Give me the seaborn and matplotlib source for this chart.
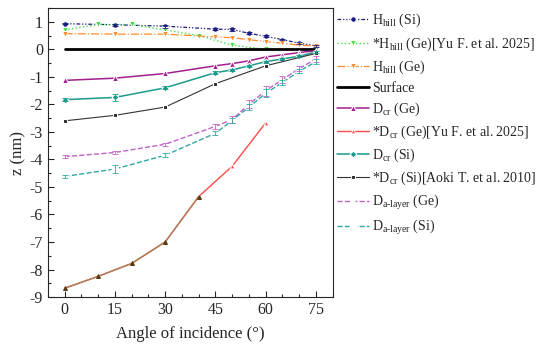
import numpy as np
import matplotlib
matplotlib.use('Agg')
import matplotlib.pyplot as plt
import seaborn as sns
from matplotlib.ticker import MultipleLocator

# angles (deg)
ang = [0, 15, 30, 45, 50, 55, 60, 65, 70, 75]
ang_yu = [0, 10, 20, 30, 40, 50, 60]
ang_aoki = [0, 15, 30, 45, 60, 75]
ang_surf = [0, 75]

# depths / heights (nm)
hhill_si = [0.93, 0.89, 0.84, 0.73, 0.72, 0.58, 0.47, 0.35, 0.22, 0.13]
hhill_ge_yu = [0.70, 0.90, 0.90, 0.70, 0.50, 0.15, 0.00]
hhill_ge = [0.57, 0.55, 0.55, 0.45, 0.42, 0.35, 0.28, 0.22, 0.15, 0.12]
surface = [0.0, 0.0]
dcr_ge = [-1.13, -1.05, -0.88, -0.60, -0.52, -0.42, -0.28, -0.20, -0.12, -0.05]
dcr_ge_yu = [-8.68, -8.25, -7.78, -7.00, -5.35, -4.25, -2.67]
dcr_si = [-1.83, -1.75, -1.40, -0.85, -0.75, -0.60, -0.45, -0.35, -0.25, -0.10]
dcr_si_aoki = [-2.60, -2.40, -2.10, -1.25, -0.60, -0.15]
dal_ge = [-3.90, -3.75, -3.45, -2.80, -2.55, -2.00, -1.50, -1.10, -0.70, -0.35]
dal_si = [-4.62, -4.35, -3.85, -3.05, -2.58, -2.10, -1.60, -1.20, -0.80, -0.45]

# small error bars
err_hhill_si = [0.03, 0.04, 0.05, 0.04, 0.06, 0.03, 0.04, 0.03, 0.03, 0.03]
err_dcr_si = [0.06, 0.12, 0.05, 0.06, 0.05, 0.04, 0.04, 0.03, 0.03, 0.03]
err_dal_ge = [0.05, 0.05, 0.06, 0.08, 0.12, 0.15, 0.18, 0.12, 0.10, 0.10]
err_dal_si = [0.05, 0.15, 0.08, 0.08, 0.10, 0.10, 0.15, 0.10, 0.08, 0.10]

sns.set_style('ticks')
plt.rcParams['font.family'] = ['Liberation Serif', 'DejaVu Serif']
plt.rcParams['mathtext.fontset'] = 'custom'
plt.rcParams['mathtext.rm'] = 'Liberation Serif'
plt.rcParams['mathtext.default'] = 'regular'
plt.rcParams['axes.unicode_minus'] = False

fig, ax = plt.subplots(figsize=(5.5, 3.47), dpi=100)
fig.subplots_adjust(left=0.087, right=0.605, top=0.977, bottom=0.144)

navy = '#1c1c80'
green = '#44dd44'
orange = '#ff8a2a'
purple = '#a0208f'
red = '#ff4a4a'
teal = '#1a9a8a'
grey = '#333333'
pink = '#c060c8'
lteal = '#30a8a0'

sns.lineplot(x=ang, y=hhill_si, ax=ax, color=navy, linestyle=(0, (3, 1.5, 1, 1.5, 1, 1.5)),
             marker='o', markersize=4, lw=0.9, label=r'H$_{hill}$ (Si)')
sns.lineplot(x=ang_yu, y=hhill_ge_yu, ax=ax, color=green, linestyle=':',
             marker='v', markersize=4, lw=1.0, label=r'*H$_{hill}$ (Ge)[Yu F. et al. 2025]')
sns.lineplot(x=ang, y=hhill_ge, ax=ax, color=orange, linestyle='-.',
             marker='v', markersize=4, lw=0.9, label=r'H$_{hill}$ (Ge)')
sns.lineplot(x=ang_surf, y=surface, ax=ax, color='black', lw=2, label='Surface')
sns.lineplot(x=ang, y=dcr_ge, ax=ax, color=purple, linestyle='-',
             marker='^', markersize=4, lw=1.1, label=r'D$_{cr}$ (Ge)')
sns.lineplot(x=ang_yu, y=dcr_ge_yu, ax=ax, color=red, linestyle='-',
             marker='^', markersize=3.5, lw=1.0, label=r'*D$_{cr}$ (Ge)[Yu F. et al. 2025]')
sns.lineplot(x=ang_yu[:5], y=dcr_ge_yu[:5], ax=ax, color='#a8825a', linestyle='-',
             marker='^', markersize=2.8, markerfacecolor='#5a3a10', markeredgecolor='#5a3a10',
             lw=1.0, legend=False)
sns.lineplot(x=ang, y=dcr_si, ax=ax, color=teal, linestyle='-',
             marker='D', markersize=3.5, lw=1.1, label=r'D$_{cr}$ (Si)')
sns.lineplot(x=ang_aoki, y=dcr_si_aoki, ax=ax, color=grey, linestyle='-',
             marker='s', markersize=3, lw=0.8, label=r'*D$_{cr}$ (Si)[Aoki T. et al. 2010]')
sns.lineplot(x=ang, y=dal_ge, ax=ax, color=pink, linestyle='--', dashes=(4, 2.5),
             marker='^', markersize=5, markerfacecolor='white', lw=1.0, label=r'D$_{a\text{-}layer}$ (Ge)')
sns.lineplot(x=ang, y=dal_si, ax=ax, color=lteal, linestyle='--', dashes=(4, 2.5),
             marker='o', markersize=5, markerfacecolor='white', lw=1.0, label=r'D$_{a\text{-}layer}$ (Si)')

for ys, es, c in [(hhill_si, err_hhill_si, navy), (dcr_si, err_dcr_si, teal),
                  (dal_ge, err_dal_ge, pink), (dal_si, err_dal_si, lteal)]:
    ax.errorbar(ang, ys, yerr=es, fmt='none', ecolor=c, elinewidth=0.6, capsize=2, capthick=0.6)

ax.set_xlim(-5, 80)
ax.set_ylim(-9, 1.5)
ax.xaxis.set_major_locator(MultipleLocator(15))
ax.xaxis.set_minor_locator(MultipleLocator(5))
ax.yaxis.set_major_locator(MultipleLocator(1))
ax.yaxis.set_minor_locator(MultipleLocator(0.5))
ax.tick_params(which='both', direction='in', labelsize=11.5, width=0.8, top=False, right=False)
ax.tick_params(which='major', length=4)
ax.tick_params(which='minor', length=2)
for s in ax.spines.values():
    s.set_linewidth(0.8)
ax.set_xlabel('Angle of incidence (°)', fontsize=12, labelpad=6)
ax.set_ylabel('z (nm)', fontsize=12, labelpad=2)

ax.legend(loc='upper left', bbox_to_anchor=(1.0, 1.0), frameon=False, fontsize=10,
          handlelength=2.3, handletextpad=0.2, labelspacing=0.42, borderaxespad=0.1,
          borderpad=0.2)

fig.savefig('out.png', dpi=100)
